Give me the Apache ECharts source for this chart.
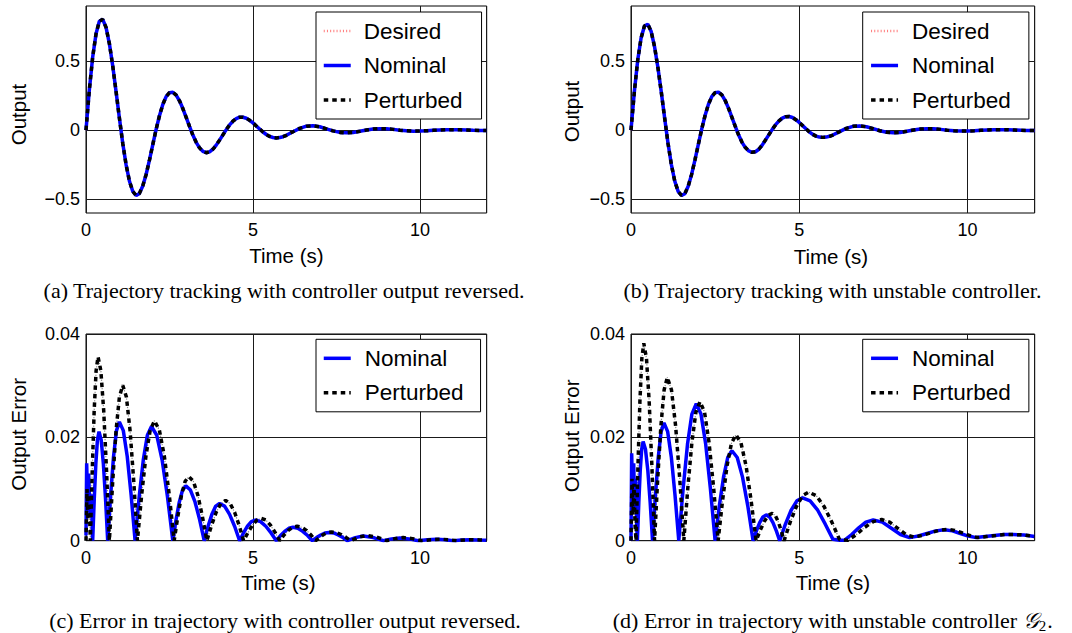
<!DOCTYPE html>
<html><head><meta charset="utf-8">
<script src="https://cdn.jsdelivr.net/npm/echarts@6/dist/echarts.min.js"></script>
<style>html,body{margin:0;padding:0;background:#fff}#c{width:1072px;height:633px}</style>
</head><body><div id="c"></div>
<script>
// ---------- data ----------
const xTicks = [0, 5, 10];
const yTicksTop = [-0.5, 0, 0.5];
const yTicksErr = [0, 0.02, 0.04];
const legendTop = ['Desired', 'Nominal', 'Perturbed'];
const legendErr = ['Nominal', 'Perturbed'];
const captions = [
  '(a) Trajectory tracking with controller output reversed.',
  '(b) Trajectory tracking with unstable controller.',
  '(c) Error in trajectory with controller output reversed.',
  '(d) Error in trajectory with unstable controller {g|\uD835\uDCA2}{s|2}.'
];

const timeTop = [0,0.1,0.2,0.3,0.4,0.5,0.6,0.7,0.8,0.9,1.0,1.1,1.2,1.3,1.4,1.5,1.6,1.7,1.8,1.9,
  2.0,2.1,2.2,2.3,2.4,2.5,2.6,2.7,2.8,2.9,3.0,3.1,3.2,3.3,3.4,3.5,3.6,3.7,3.8,3.9,
  4.0,4.1,4.2,4.3,4.4,4.5,4.6,4.7,4.8,4.9,5.0,5.1,5.2,5.3,5.4,5.5,5.6,5.7,5.8,5.9,6.0,
  6.2,6.4,6.6,6.8,7.0,7.2,7.4,7.6,7.8,8.0,8.2,8.4,8.6,8.8,9.0,9.2,9.4,9.6,9.8,
  10.0,10.2,10.4,10.6,10.8,11.0,11.2,11.4,11.6,11.8,12.0];

const outputA = [0,0.292,0.530,0.698,0.790,0.803,0.745,0.628,0.467,0.281,
  0.088,-0.094,-0.249,-0.368,-0.443,-0.473,-0.458,-0.404,-0.321,-0.217,
  -0.105,0.006,0.105,0.186,0.243,0.272,0.275,0.254,0.213,0.157,
  0.093,0.027,-0.035,-0.088,-0.128,-0.153,-0.163,-0.157,-0.138,-0.108,
  -0.072,-0.034,0.004,0.038,0.065,0.084,0.094,0.094,0.087,0.072,
  0.053,0.031,0.009,-0.013,-0.031,-0.045,-0.053,-0.056,-0.053,-0.047,
  -0.037,-0.011,0.013,0.029,0.032,0.025,0.010,-0.005,-0.016,-0.019,
  -0.016,-0.008,0.001,0.008,0.011,0.010,0.006,0.000,-0.004,-0.007,
  -0.006,-0.004,-0.001,0.002,0.004,0.004,0.003,0.001,-0.001,-0.002,-0.002];

const outputB = [0,0.280,0.508,0.668,0.755,0.768,0.715,0.605,0.455,0.277,
  0.088,-0.094,-0.249,-0.368,-0.443,-0.473,-0.460,-0.406,-0.322,-0.217,
  -0.105,0.006,0.105,0.186,0.243,0.272,0.276,0.256,0.215,0.158,
  0.093,0.027,-0.035,-0.088,-0.126,-0.150,-0.160,-0.156,-0.138,-0.108,
  -0.070,-0.032,0.006,0.040,0.068,0.088,0.098,0.099,0.092,0.076,
  0.056,0.033,0.010,-0.012,-0.030,-0.043,-0.050,-0.052,-0.050,-0.044,
  -0.035,-0.010,0.013,0.028,0.031,0.025,0.011,-0.004,-0.015,-0.018,
  -0.016,-0.008,0.001,0.008,0.011,0.010,0.006,0.000,-0.004,-0.006,
  -0.006,-0.004,-0.001,0.002,0.003,0.004,0.003,0.001,-0.001,-0.002,-0.002];

const nominalErrC = [[0,0.001],[0.02,0.015],[0.05,0.007],[0.08,0.013],[0.12,0.005],[0.16,0.009],[0.2,0],
  [0.2475,0.0081],[0.295,0.0149],[0.3425,0.0195],[0.39,0.0211],[0.455,0.0195],[0.52,0.0149],[0.585,0.0081],[0.65,0],
  [0.7375,0.0088],[0.825,0.0163],[0.9125,0.0213],[1.0,0.023],[1.1175,0.0213],[1.235,0.0163],[1.3525,0.0088],[1.47,0],
  [1.5925,0.0085],[1.715,0.0156],[1.8375,0.0204],[1.96,0.0221],[2.12,0.0204],[2.28,0.0156],[2.44,0.0085],[2.6,0],
  [2.6975,0.0041],[2.795,0.0075],[2.8925,0.0098],[2.99,0.0106],[3.1275,0.0098],[3.265,0.0075],[3.4025,0.0041],[3.54,0],
  [3.655,0.0028],[3.77,0.0051],[3.885,0.0067],[4.0,0.0072],[4.15,0.0067],[4.3,0.0051],[4.45,0.0028],[4.6,0],
  [4.7175,0.0015],[4.835,0.0028],[4.9525,0.0037],[5.07,0.004],[5.2275,0.0037],[5.385,0.0028],[5.5425,0.0015],[5.7,0],
  [5.825,0.001],[5.95,0.0018],[6.075,0.0024],[6.2,0.0026],[6.345,0.0024],[6.49,0.0018],[6.635,0.001],[6.78,0],
  [6.905,0.0006],[7.03,0.0011],[7.155,0.0015],[7.28,0.0016],[7.4175,0.0015],[7.555,0.0011],[7.6925,0.0006],[7.83,0],
  [8.065,0.0006],[8.3,0.0009],[8.6,0.0006],[8.9,0],
  [9.15,0.00035],[9.4,0.0005],[9.675,0.00035],[9.95,0],
  [10.22,0.0002],[10.5,0.0003],[10.75,0.0002],[11.0,0],
  [11.25,0.00015],[11.5,0.0002],[11.75,0.00015],[12,0.0001]];

const perturbedErrC = [[0,0],[0.03,0.01],[0.06,0.004],[0.09,0.009],[0.13,0],
  [0.1875,0.0136],[0.245,0.0252],[0.3025,0.0329],[0.36,0.0356],[0.445,0.0329],[0.53,0.0252],[0.615,0.0136],[0.7,0],
  [0.8,0.0115],[0.9,0.0213],[1.0,0.0278],[1.1,0.0301],[1.21,0.0278],[1.32,0.0213],[1.43,0.0115],[1.54,0],
  [1.6675,0.0089],[1.795,0.0164],[1.9225,0.0214],[2.05,0.0232],[2.1975,0.0214],[2.345,0.0164],[2.4925,0.0089],[2.64,0],
  [2.75,0.0047],[2.86,0.0088],[2.97,0.0115],[3.08,0.0124],[3.215,0.0115],[3.35,0.0088],[3.485,0.0047],[3.62,0],
  [3.76,0.003],[3.9,0.0055],[4.04,0.0072],[4.18,0.0078],[4.315,0.0072],[4.45,0.0055],[4.585,0.003],[4.72,0],
  [4.8525,0.0016],[4.985,0.003],[5.1175,0.004],[5.25,0.0043],[5.3875,0.004],[5.525,0.003],[5.6625,0.0016],[5.8,0],
  [5.93,0.0011],[6.06,0.002],[6.19,0.0026],[6.32,0.0028],[6.46,0.0026],[6.6,0.002],[6.74,0.0011],[6.88,0],
  [6.9975,0.00065],[7.115,0.0012],[7.2325,0.0016],[7.35,0.0017],[7.495,0.0016],[7.64,0.0012],[7.785,0.00065],[7.93,0],
  [8.165,0.0007],[8.4,0.001],[8.7,0.0007],[9.0,0],
  [9.25,0.0004],[9.5,0.0006],[9.775,0.0004],[10.05,0],
  [10.33,0.0002],[10.6,0.0003],[10.85,0.0002],[11.1,0],
  [11.35,0.00015],[11.6,0.0002],[11.8,0.00015],[12,0.0001]];

const nominalErrD = [[0,0],[0.02,0.0169],[0.05,0.008],[0.08,0.015],[0.11,0.006],[0.14,0.012],[0.17,0.003],[0.19,0],
  [0.2325,0.0074],[0.275,0.0136],[0.3175,0.0177],[0.36,0.0192],[0.43,0.0177],[0.5,0.0136],[0.57,0.0074],[0.64,0],
  [0.725,0.0087],[0.81,0.0161],[0.895,0.0211],[0.98,0.0228],[1.09,0.0211],[1.2,0.0161],[1.31,0.0087],[1.42,0],
  [1.55,0.0101],[1.68,0.0187],[1.81,0.0245],[1.94,0.0265],[2.08,0.0245],[2.22,0.0187],[2.36,0.0101],[2.5,0],
  [2.625,0.0067],[2.75,0.0123],[2.875,0.0161],[3.0,0.0174],[3.1575,0.0161],[3.315,0.0123],[3.4725,0.0067],[3.63,0],
  [3.7275,0.0019],[3.825,0.0035],[3.9225,0.0046],[4.02,0.005],[4.12,0.0046],[4.22,0.0035],[4.32,0.0019],[4.42,0],
  [4.59,0.0032],[4.76,0.0059],[4.93,0.0077],[5.1,0.0083],[5.325,0.0077],[5.55,0.0059],[5.775,0.0032],[6.0,0.0003],
  [6.2,0.0001],[6.35,0.0001],
  [6.56,0.0012],[6.77,0.0025],[6.98,0.0036],[7.2,0.004],[7.47,0.0036],[7.74,0.0024],[8.01,0.0012],[8.28,0.0006],
  [8.54,0.0009],[8.8,0.0014],[9.06,0.0019],[9.32,0.0021],[9.555,0.0019],[9.79,0.0014],[10.025,0.0009],[10.26,0.0006],
  [10.53,0.0008],[10.8,0.001],[11.08,0.0012],[11.35,0.0012],[11.68,0.0011],[12,0.0008]];

const perturbedErrD = [[0,0],[0.03,0.012],[0.06,0.005],[0.09,0.011],[0.12,0.003],[0.15,0],
  [0.2075,0.0146],[0.265,0.027],[0.3225,0.0353],[0.38,0.0382],[0.46,0.0353],[0.54,0.027],[0.62,0.0146],[0.7,0],
  [0.795,0.0121],[0.89,0.0223],[0.985,0.0292],[1.08,0.0316],[1.2025,0.0292],[1.325,0.0223],[1.4475,0.0121],[1.57,0],
  [1.69,0.0103],[1.81,0.019],[1.93,0.0249],[2.05,0.0269],[2.185,0.0249],[2.32,0.019],[2.455,0.0103],[2.59,0],
  [2.7225,0.0078],[2.855,0.0145],[2.9875,0.0189],[3.12,0.0205],[3.27,0.0189],[3.42,0.0145],[3.57,0.0078],[3.72,0],
  [3.84,0.002],[3.96,0.0037],[4.08,0.0049],[4.2,0.0053],[4.2875,0.0049],[4.375,0.0037],[4.4625,0.002],[4.55,0],
  [4.7325,0.0036],[4.915,0.0066],[5.0975,0.0087],[5.28,0.0094],[5.51,0.0087],[5.74,0.0066],[5.97,0.0036],[6.2,0.0002],
  [6.45,0.0001],
  [6.7,0.0012],[6.95,0.0026],[7.2,0.0037],[7.45,0.0041],[7.69,0.0036],[7.93,0.0024],[8.17,0.0012],[8.4,0.0007],
  [8.65,0.001],[8.9,0.0015],[9.15,0.002],[9.4,0.0022],[9.625,0.002],[9.85,0.0015],[10.075,0.001],[10.3,0.0006],
  [10.57,0.0008],[10.85,0.001],[11.12,0.0012],[11.4,0.0012],[11.7,0.0011],[12,0.0008]];

// ---------- styling / layout ----------
const FONT = '"Liberation Sans", Arial, Helvetica, sans-serif';
const SERIF = '"Liberation Serif", "Times New Roman", serif';
const GRIDC = '#1a1a1a';
const near = (a, b) => Math.abs(a - b) < 1e-6;
const fmtNum = v => (near(v, 0) ? '0' : (v < 0 ? '\u2212' + String(Math.abs(v)) : String(v)));

const grids = [
  {left: 86, top: 6, width: 400.7, height: 207},
  {left: 631, top: 6, width: 403.7, height: 207},
  {left: 86, top: 334, width: 400.7, height: 206.7},
  {left: 631, top: 334, width: 403.7, height: 206.7}
].map(g => Object.assign(g, {show: true, borderColor: '#000', borderWidth: 1, backgroundColor: 'transparent', containLabel: false, outerBoundsMode: 'none'}));

const xNameGap = [32, 33, 31, 31.5];
const xNamePad = [[0,0,0,0], [0,4,0,0], [0,16,0,0], [0,0,0,0]];
const yNameGap = [57.5, 49.5, 57.5, 49.5];
const yNamePad = [[0,10,0,0], [0,4,0,0], [0,0,0,6], [0,0,0,3]];

const xAxes = grids.map((g, i) => ({
  type: 'value', gridIndex: i, min: 0, max: 12, interval: 5,
  name: 'Time (s)', nameLocation: 'middle', nameGap: xNameGap[i],
  nameTextStyle: {fontFamily: FONT, fontSize: 20.5, color: '#000', padding: xNamePad[i]},
  axisLine: {show: false}, axisTick: {show: false},
  axisLabel: {fontFamily: FONT, fontSize: 18, color: '#000', margin: 8,
    formatter: v => (xTicks.some(t => near(t, v)) ? String(v) : '')},
  splitLine: {show: true, lineStyle: {color: GRIDC, width: 1}}
}));

const yAxes = grids.map((g, i) => {
  const top = i < 2;
  const ticks = top ? yTicksTop : yTicksErr;
  return {
    type: 'value', gridIndex: i,
    min: top ? -0.6 : 0, max: top ? 0.9 : 0.04, interval: top ? 0.1 : 0.02,
    name: top ? 'Output' : 'Output Error', nameLocation: 'middle', nameGap: yNameGap[i],
    nameTextStyle: {fontFamily: FONT, fontSize: 20.5, color: '#000', padding: yNamePad[i]},
    axisLine: {show: false}, axisTick: {show: false},
    axisLabel: {fontFamily: FONT, fontSize: 18, color: '#000', margin: 6,
      formatter: v => { const t = ticks.find(x => near(x, v)); return t === undefined ? '' : fmtNum(t); }},
    splitLine: {show: !top, lineStyle: {color: GRIDC, width: 1}}
  };
});

const base = {type: 'line', symbol: 'none', showSymbol: false, animation: false, silent: true, clip: true};
const desiredStyle = {color: '#ff5a5a', width: 2.6, type: [1, 2.2], opacity: 0.8};
const nominalStyle = {color: '#0000ff', width: 3.5};
const perturbedStyle = {color: '#000000', width: 3.5, type: [4.5, 4]};
const dotStyle = {color: '#8a8a8a', width: 1.2, type: [1.2, 7.3], dashOffset: 2.6};

function topSeries(i, values) {
  const data = timeTop.map((t, k) => [t, values[k]]);
  return [
    Object.assign({}, base, {name: 'Desired', xAxisIndex: i, yAxisIndex: i, z: 2, data,
      lineStyle: desiredStyle, itemStyle: {color: '#ff5a5a'},
      markLine: {silent: true, symbol: ['none', 'none'], label: {show: false}, animation: false, z: 1,
        lineStyle: {color: GRIDC, width: 1, type: 'solid'},
        data: yTicksTop.map(v => ({yAxis: v}))}}),
    Object.assign({}, base, {name: 'Nominal', xAxisIndex: i, yAxisIndex: i, z: 3, data,
      lineStyle: nominalStyle, itemStyle: {color: '#0000ff'}}),
    Object.assign({}, base, {name: 'Perturbed', xAxisIndex: i, yAxisIndex: i, z: 4, data,
      lineStyle: perturbedStyle, itemStyle: {color: '#000'}})
  ];
}
function errSeries(i, nom, per) {
  return [
    Object.assign({}, base, {name: 'Perturbed dots', xAxisIndex: i, yAxisIndex: i, z: 2, data: per,
      lineStyle: dotStyle, itemStyle: {color: '#8a8a8a'}}),
    Object.assign({}, base, {name: 'Nominal', xAxisIndex: i, yAxisIndex: i, z: 3, data: nom,
      lineStyle: nominalStyle, itemStyle: {color: '#0000ff'}}),
    Object.assign({}, base, {name: 'Perturbed', xAxisIndex: i, yAxisIndex: i, z: 4, data: per,
      lineStyle: perturbedStyle, itemStyle: {color: '#000'}})
  ];
}

const series = [].concat(
  topSeries(0, outputA), topSeries(1, outputB),
  errSeries(2, nominalErrC, perturbedErrC), errSeries(3, nominalErrD, perturbedErrD)
);

const legendCommon = {
  orient: 'vertical', backgroundColor: '#fff', borderColor: '#000', borderWidth: 1, borderRadius: 0,
  itemWidth: 27, itemHeight: 14, itemGap: 10.5, selectedMode: false, z: 10,
  textStyle: {fontFamily: FONT, fontSize: 22.5, color: '#000', lineHeight: 24, padding: [0, 0, 0, 8]},
  lineStyle: {width: 'inherit'},
  itemStyle: {color: 'transparent', borderColor: 'transparent', borderWidth: 0, opacity: 0}
};
const legends = [
  Object.assign({}, legendCommon, {left: 316, top: 12, padding: [7, 19, 7, 6], data: legendTop}),
  Object.assign({}, legendCommon, {left: 862.7, top: 12, padding: [7, 18, 7, 6.6], data: legendTop,
    textStyle: Object.assign({}, legendCommon.textStyle, {padding: [0, 0, 0, 9]})}),
  Object.assign({}, legendCommon, {left: 316, top: 339.3, padding: [7, 17, 7, 6], data: legendErr,
    textStyle: Object.assign({}, legendCommon.textStyle, {padding: [0, 0, 0, 9]})}),
  Object.assign({}, legendCommon, {left: 862.7, top: 339.3, padding: [7, 18, 7, 6.6], data: legendErr,
    textStyle: Object.assign({}, legendCommon.textStyle, {padding: [0, 0, 0, 9]})})
];

const capPos = [[284, 290], [832.5, 290], [285, 620], [832.7, 620]];
const graphic = captions.map((c, i) => ({
  type: 'text', x: capPos[i][0], y: capPos[i][1], silent: true, z: 20,
  style: {
    text: c, fill: '#000', fontFamily: SERIF, fontSize: 22, font: '22px ' + SERIF,
    align: 'center', verticalAlign: 'middle', textAlign: 'center', textVerticalAlign: 'middle',
    lineHeight: 26,
    rich: {
      g: {fontFamily: '"DejaVu Serif", "DejaVu Sans", ' + SERIF, fontSize: 22, fontStyle: 'italic', lineHeight: 26, fill: '#000'},
      s: {fontFamily: SERIF, fontSize: 15, lineHeight: 15, verticalAlign: 'bottom', fill: '#000', padding: [0, 1, 0, 0]}
    }
  }
}));

const chart = echarts.init(document.getElementById('c'), null, {renderer: 'svg'});
chart.setOption({
  animation: false,
  backgroundColor: '#fff',
  grid: grids, xAxis: xAxes, yAxis: yAxes,
  legend: legends, series, graphic
});
</script></body></html>
